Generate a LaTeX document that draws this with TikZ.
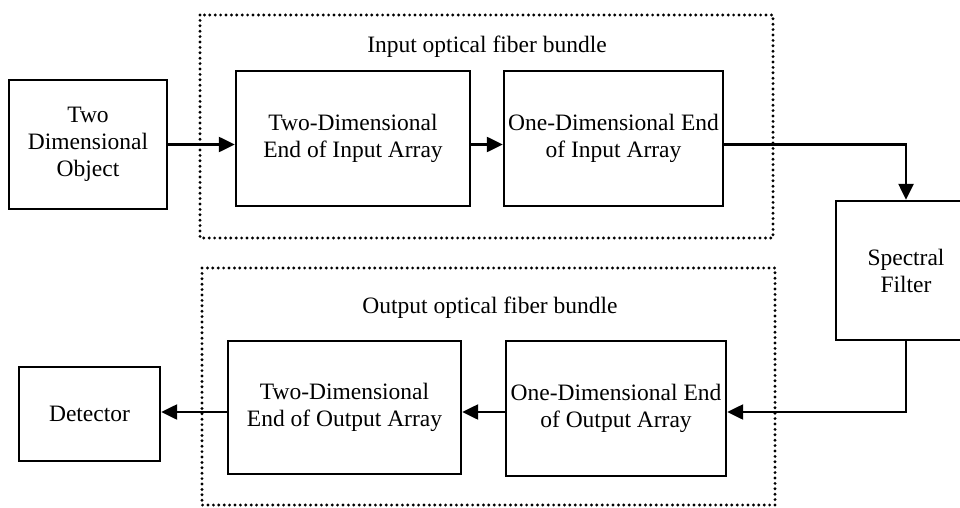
\documentclass[tikz,border=0pt]{standalone}
\usepackage{fontspec}
\setmainfont{Liberation Serif}
\usetikzlibrary{arrows.meta}

\begin{document}
\begin{tikzpicture}[x=1pt,y=-1pt,
	box/.style={draw, line width=2.4pt, inner sep=0pt, align=center,
		font=\fontsize{23.5}{27}\selectfont},
	bundle/.style={draw, line width=3.2pt, line cap=round, dash pattern=on 0pt off 5.4pt},
	arr/.style={line width=2.4pt, -{Triangle[length=16pt,width=15pt]}},
	lbl/.style={anchor=base, font=\fontsize{23.5}{27}\selectfont}]
	\useasboundingbox (0,0) rectangle (960,508);
	% fiber bundles
	\draw[bundle] (200,15) rectangle (773,238);
	\draw[bundle] (202,268) rectangle (775,505);
	\node[lbl] (inlbl) at (487,53) {Input optical fiber bundle};
	\node[lbl] (outlbl) at (490,313) {Output optical fiber bundle};
	% blocks
	\node[box, minimum width=158, minimum height=129] (obj) at (88,144.5) {Two\\Dimensional\\Object};
	\node[box, minimum width=234, minimum height=135] (inA) at (353,138.5) {Two-Dimensional\\End of Input Array};
	\node[box, minimum width=219, minimum height=135] (inB) at (613.5,138.5) {One-Dimensional End\\of Input Array};
	\node[box, minimum width=140, minimum height=139] (filt) at (906,270.5) {Spectral\\Filter};
	\node[box, minimum width=220, minimum height=135] (outB) at (616,408.5) {One-Dimensional End\\of Output Array};
	\node[box, minimum width=233, minimum height=133] (outA) at (344.5,407.5) {Two-Dimensional\\End of Output Array};
	\node[box, minimum width=141, minimum height=94] (det) at (89.5,414) {Detector};
	\coordinate (low) at (0,412);
	% connectors
	\draw[arr] (obj.east) -- (obj.east -| inA.west);
	\draw[arr] (inA.east |- obj.east) -- (obj.east -| inB.west);
	\draw[arr] (inB.east |- obj.east) -| (filt.north);
	\draw[arr] (filt.south) |- (low -| outB.east);
	\draw[arr] (low -| outB.west) -- (low -| outA.east);
	\draw[arr] (low -| outA.west) -- (low -| det.east);
\end{tikzpicture}
\end{document}
